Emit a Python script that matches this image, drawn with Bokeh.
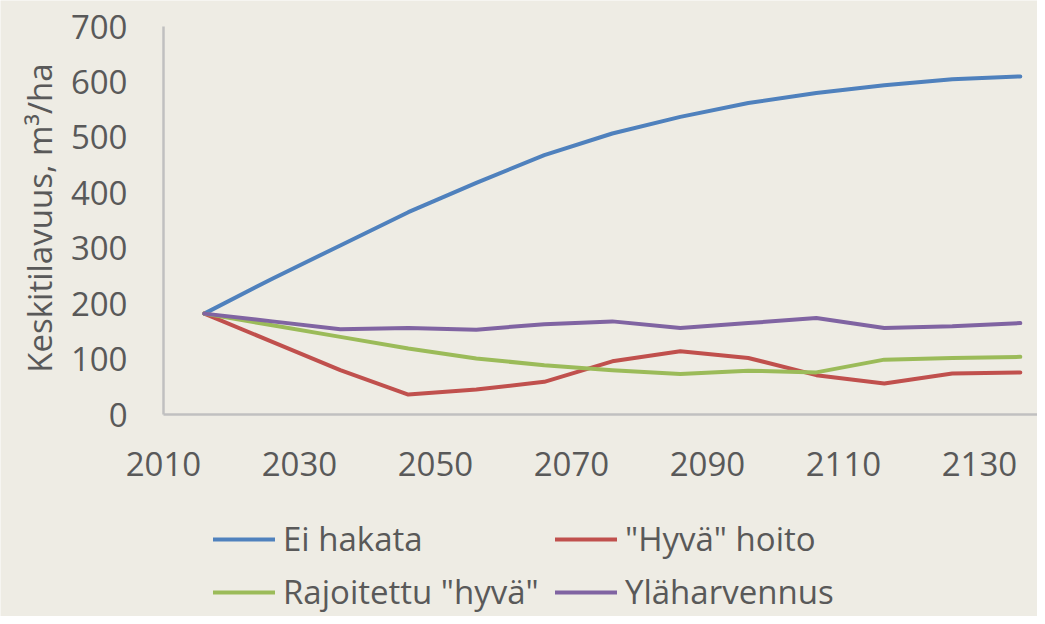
import math
from bokeh.plotting import figure
from bokeh.models import Legend, LegendItem, Range1d, FixedTicker, Label
from bokeh.embed import file_html
from bokeh.resources import INLINE

years = [2016, 2026, 2036, 2046, 2056, 2066, 2076, 2086, 2096, 2106, 2116, 2126, 2136]
ei_hakata = [182, 245, 305, 365, 418, 468, 507, 537, 562, 580, 594, 605, 610]
hyva_hoito = [182, 131, 80, 36, 45, 59, 96, 114, 102, 71, 56, 74, 76]
rajoitettu_hyva = [182, 161, 140, 119, 101, 89, 80, 73, 79, 76, 99, 102, 104]
ylaharvennus = [182, 168, 154, 156, 153, 163, 168, 156, 165, 174, 156, 159, 165]

series_names = ["Ei hakata", "\"Hyvä\" hoito", "Rajoitettu \"hyvä\"", "Yläharvennus"]
series_values = [ei_hakata, hyva_hoito, rajoitettu_hyva, ylaharvennus]
series_colors = ["#4F81BD", "#C0504D", "#9BBB59", "#8064A2"]

x_ticks = [2010, 2030, 2050, 2070, 2090, 2110, 2130]
y_ticks = [0, 100, 200, 300, 400, 500, 600, 700]
y_title = "Keskitilavuus, m³/ha"

BG = "#EEECE4"
TXT = "#595959"
AXIS = "#C0C0C0"
FONT = "Open Sans"

W, H = 1037, 616
X_START, X_END = 1986.03, 2138.53
Y_START, Y_END = -364.43, 746.91

# the frame covers the whole figure; the axes are drawn at x = 2010 and y = 0
p = figure(width=W, height=H, output_backend="svg", toolbar_location=None,
           x_range=Range1d(X_START, X_END), y_range=Range1d(Y_START, Y_END),
           min_border_left=0, min_border_right=0, min_border_top=0, min_border_bottom=0)
p.background_fill_color = BG
p.border_fill_color = BG
p.outline_line_color = None
p.xgrid.grid_line_color = None
p.ygrid.grid_line_color = None

for ax in (p.xaxis[0], p.yaxis[0]):
    ax.axis_line_color = AXIS
    ax.axis_line_width = 2.5
    ax.major_tick_line_color = None
    ax.minor_tick_line_color = None
    ax.major_tick_out = 0
    ax.major_tick_in = 0
    ax.major_label_text_font = FONT
    ax.major_label_text_font_size = "33px"
    ax.major_label_text_color = TXT

p.xaxis.ticker = FixedTicker(ticks=x_ticks)
p.yaxis.ticker = FixedTicker(ticks=y_ticks)
p.xaxis.fixed_location = 0
p.yaxis.fixed_location = x_ticks[0]
p.xaxis.bounds = (x_ticks[0], X_END)
p.yaxis.bounds = (y_ticks[0], y_ticks[-1])
p.xaxis.major_label_standoff = 37
p.yaxis.major_label_standoff = 36

p.add_layout(Label(x=39, y=398.5, x_units="screen", y_units="screen", text=y_title,
                   angle=math.pi / 2, text_align="center", text_baseline="alphabetic",
                   text_font=FONT, text_font_size="33px", text_color=TXT))

renderers = []
for name, vals, col in zip(series_names, series_values, series_colors):
    r = p.line(years, vals, line_color=col, line_width=4, line_cap="round", line_join="round")
    renderers.append(r)

positions = [(213, 55), (555, 55), (213, 2), (555, 2)]
for name, r, loc in zip(series_names, renderers, positions):
    lg = Legend(items=[LegendItem(label=name, renderers=[r])], location=loc,
                orientation="horizontal", glyph_width=62, glyph_height=44, label_height=44,
                label_standoff=8, padding=0, margin=0, spacing=0,
                border_line_color=None, background_fill_alpha=0,
                label_text_font=FONT, label_text_font_size="33px", label_text_color=TXT)
    p.add_layout(lg, "center")

open("out.html", "w").write(file_html(p, INLINE))
